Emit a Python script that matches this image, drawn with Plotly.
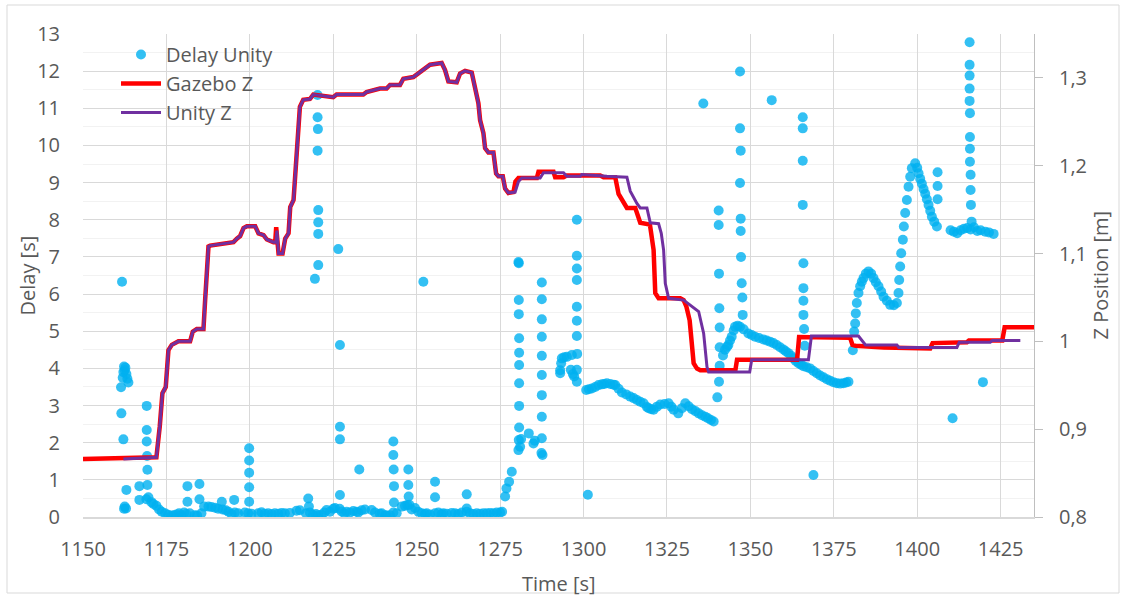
import plotly.graph_objects as go

# ---- Delay measured in Unity (seconds) ----
delay_t = [
    1161.7, 1161.4, 1161.9, 1162.1, 1162.3, 1162.5, 1162.7, 1163.0, 1163.3, 1163.6,
    1161.5, 1162.1, 1163.0, 1162.5, 1162.9, 1162.3,
    1166.9, 1166.9, 1169.1, 1169.1, 1169.1, 1169.2, 1169.3, 1169.3, 1169.6, 1169.0,
    1170.5, 1171.1, 1172.0, 1172.8, 1173.6, 1174.6,
    1175.5, 1176.5, 1177.3, 1178.0, 1178.8, 1179.5, 1180.3, 1181.0, 1181.3, 1181.3,
    1182.0, 1183.5, 1184.2, 1184.9, 1184.9, 1185.5, 1186.3, 1187.6, 1188.5, 1189.6,
    1190.5, 1191.6, 1191.8, 1192.8, 1193.6, 1194.5, 1195.3, 1195.5, 1196.5, 1198.5,
    1199.5, 1199.8, 1199.8, 1199.8, 1199.8, 1199.8, 1200.5, 1202.5, 1203.5, 1204.5,
    1205.5, 1206.5, 1207.5, 1208.5, 1209.5, 1210.5, 1212.0, 1214.0, 1215.0, 1216.8,
    1217.5, 1217.7, 1218.0, 1218.9, 1219.8, 1220.5, 1221.5, 1222.3, 1223.0, 1224.0,
    1225.0, 1225.5, 1226.9, 1227.5, 1228.3, 1229.0, 1230.0, 1231.0, 1232.0, 1232.5,
    1233.5, 1234.5, 1236.5, 1237.5, 1238.9, 1239.5, 1240.5, 1241.0, 1242.0, 1243.0,
    1244.0, 1245.5, 1246.5,
    1220.3, 1220.3, 1220.4, 1220.3, 1220.5, 1220.5, 1220.5, 1220.5, 1219.5,
    1226.5, 1227.0, 1227.0, 1227.0, 1227.0, 1232.8, 1252.0,
    1243.0, 1243.0, 1243.1, 1243.2, 1243.2, 1247.5, 1247.5, 1247.6, 1247.2, 1247.8,
    1248.5, 1249.5, 1250.5, 1251.5, 1252.5, 1253.0, 1254.0, 1255.5, 1255.5, 1255.5,
    1256.5, 1257.5, 1258.0, 1259.0, 1260.5, 1261.5, 1262.5, 1263.5, 1265.0, 1265.0,
    1265.0, 1266.0, 1267.0, 1268.0, 1269.0, 1270.0, 1271.0, 1272.0, 1273.0, 1274.0,
    1275.0, 1275.6,
    1276.5, 1276.9, 1277.7, 1278.5, 1280.5, 1280.6, 1280.7, 1280.7, 1280.7, 1280.7,
    1280.7, 1280.7, 1280.6, 1280.6, 1280.6, 1280.5, 1281.0, 1281.3, 1283.6, 1285.0,
    1285.4, 1287.4, 1287.7, 1287.5, 1287.5, 1287.5, 1287.5, 1287.5, 1287.5, 1287.5,
    1287.5, 1287.5,
    1293.0, 1293.0, 1293.3, 1293.5, 1294.2, 1295.0, 1296.5, 1296.2, 1296.8, 1297.2,
    1298.0, 1298.0, 1298.1, 1298.0, 1298.0, 1298.0, 1298.0, 1298.0, 1298.0, 1298.0,
    1301.3,
    1300.8, 1301.6, 1302.5, 1303.5, 1304.5, 1305.5, 1306.2, 1307.0, 1308.0, 1309.0,
    1309.5, 1310.5, 1311.5, 1312.8, 1314.0, 1315.0, 1316.0, 1317.0, 1318.0, 1319.0,
    1319.5, 1320.3, 1321.0, 1322.0, 1323.0, 1324.3, 1325.5, 1326.3, 1327.0, 1328.4,
    1329.5, 1330.5, 1331.5, 1332.5, 1333.5, 1334.5, 1335.5, 1336.5, 1337.3, 1338.2,
    1339.0,
    1335.9, 1340.5, 1340.5, 1340.6, 1340.7, 1340.8, 1340.8, 1340.8, 1340.6, 1340.1,
    1341.8, 1342.4, 1343.0, 1343.4, 1343.9, 1344.4, 1345.0, 1345.4, 1346.2, 1346.9,
    1346.9, 1346.9, 1347.1, 1346.9, 1347.1, 1347.1, 1347.2, 1347.4, 1347.6, 1347.7,
    1348.0, 1349.4, 1350.4, 1351.4, 1352.6, 1353.9, 1354.9, 1355.9, 1356.9, 1357.9,
    1358.9, 1359.9, 1360.6, 1361.4, 1362.2, 1362.9, 1363.6, 1364.4, 1365.2, 1365.9,
    1366.9, 1367.9, 1368.9, 1369.9, 1370.9, 1371.9, 1372.9, 1373.9, 1374.9, 1375.9,
    1376.9, 1377.9, 1378.7, 1379.4,
    1356.4, 1365.7, 1365.7, 1365.7, 1365.7, 1365.9, 1365.9, 1365.9, 1365.9, 1366.1,
    1366.3, 1368.9,
    1380.7, 1381.1, 1381.4, 1381.6, 1381.9, 1382.4, 1382.9, 1383.4, 1383.9, 1384.6,
    1385.4, 1386.2, 1386.9, 1387.6, 1388.4, 1389.2, 1389.9, 1390.9, 1391.9, 1393.0,
    1393.9, 1394.4, 1394.6, 1394.9, 1395.2, 1395.7, 1396.0, 1396.4, 1396.9, 1397.4,
    1397.9, 1398.4, 1399.4, 1400.0, 1400.4, 1400.9, 1401.4, 1401.9, 1402.4, 1402.9,
    1403.4, 1403.9, 1404.4, 1405.1, 1405.9, 1406.1, 1406.1, 1406.1,
    1410.0, 1411.0, 1412.0, 1413.0, 1414.0, 1415.0, 1416.0, 1417.0, 1418.0, 1419.0,
    1420.4, 1421.5, 1422.9,
    1415.7, 1415.7, 1415.7, 1415.7, 1415.7, 1415.8, 1415.8, 1415.8, 1415.8, 1416.0,
    1416.0, 1416.1, 1416.3, 1410.6, 1419.7,
]
delay_s = [
    6.33, 3.49, 3.75, 3.90, 4.05, 3.95, 4.02, 3.85, 3.72, 3.62,
    2.79, 2.09, 0.73, 0.28, 0.23, 0.22,
    0.83, 0.46, 2.99, 2.34, 2.03, 1.64, 1.27, 0.86, 0.53, 0.48,
    0.40, 0.35, 0.30, 0.20, 0.14, 0.10,
    0.06, 0.04, 0.05, 0.07, 0.10, 0.05, 0.12, 0.08, 0.83, 0.41,
    0.10, 0.05, 0.04, 0.89, 0.48, 0.10, 0.28, 0.28, 0.27, 0.25,
    0.22, 0.41, 0.20, 0.18, 0.14, 0.08, 0.46, 0.12, 0.10, 0.12,
    0.10, 1.85, 1.52, 1.19, 0.80, 0.41, 0.09, 0.10, 0.13, 0.09,
    0.10, 0.08, 0.10, 0.09, 0.11, 0.10, 0.11, 0.17, 0.18, 0.10,
    0.50, 0.28, 0.12, 0.06, 0.08, 0.05, 0.06, 0.12, 0.19, 0.14,
    0.22, 0.24, 0.22, 0.15, 0.10, 0.14, 0.12, 0.16, 0.14, 0.12,
    0.18, 0.20, 0.19, 0.12, 0.09, 0.10, 0.05, 0.04, 0.05, 0.12,
    0.10, 0.28, 0.30,
    11.36, 10.76, 10.44, 9.86, 8.26, 7.93, 7.62, 6.78, 6.41,
    7.21, 4.63, 2.43, 2.09, 0.59, 1.28, 6.33,
    2.03, 1.67, 1.28, 0.83, 0.39, 1.28, 0.86, 0.55, 0.32, 0.33,
    0.20, 0.24, 0.14, 0.10, 0.08, 0.10, 0.07, 0.95, 0.53, 0.10,
    0.12, 0.08, 0.10, 0.09, 0.11, 0.10, 0.08, 0.12, 0.61, 0.23,
    0.14, 0.10, 0.08, 0.10, 0.09, 0.10, 0.10, 0.11, 0.10, 0.12,
    0.12, 0.14,
    0.55, 0.77, 0.95, 1.22, 1.80, 2.07, 2.41, 2.99, 3.60, 4.09,
    4.42, 4.81, 5.46, 5.84, 6.83, 6.86, 1.89, 2.10, 2.25, 1.98,
    2.05, 1.72, 1.67, 2.12, 2.70, 3.28, 3.82, 4.34, 4.85, 5.32,
    5.86, 6.31,
    3.87, 3.95, 4.14, 4.27, 4.30, 4.31, 4.36, 3.96, 3.85, 3.78,
    3.64, 3.96, 4.39, 4.87, 5.28, 5.66, 6.38, 6.69, 7.03, 8.00,
    0.60,
    3.42, 3.44, 3.46, 3.50, 3.55, 3.57, 3.58, 3.60, 3.58, 3.56,
    3.55, 3.45, 3.35, 3.30, 3.24, 3.20, 3.15, 3.10, 3.06, 2.96,
    2.93, 2.90, 2.89, 2.97, 3.03, 3.04, 3.06, 2.97, 2.89, 2.79,
    2.93, 3.06, 2.98, 2.90, 2.85, 2.79, 2.74, 2.70, 2.66, 2.61,
    2.57,
    11.13, 8.25, 7.86, 6.55, 5.62, 5.10, 4.57, 4.07, 3.64, 3.22,
    4.35, 4.50, 4.58, 4.63, 4.75, 4.85, 5.02, 5.12, 5.15, 5.12,
    11.99, 10.46, 9.86, 8.99, 8.03, 7.70, 7.00, 6.29, 5.91, 5.44,
    5.05, 4.94, 4.90, 4.85, 4.82, 4.78, 4.75, 4.72, 4.68, 4.63,
    4.57, 4.51, 4.46, 4.41, 4.34, 4.27, 4.20, 4.14, 4.10, 4.06,
    4.03, 4.00, 3.93, 3.87, 3.81, 3.76, 3.71, 3.67, 3.63, 3.60,
    3.59, 3.60, 3.62, 3.64,
    11.22, 10.76, 10.46, 9.59, 8.40, 6.83, 6.16, 5.82, 5.44, 5.06,
    4.61, 1.13,
    4.49, 4.99, 5.21, 5.48, 5.76, 6.03, 6.21, 6.33, 6.43, 6.55,
    6.61, 6.55, 6.43, 6.32, 6.21, 6.07, 5.93, 5.82, 5.71, 5.70,
    5.76, 6.03, 6.38, 6.74, 7.10, 7.46, 7.82, 8.18, 8.53, 8.89,
    9.16, 9.39, 9.52, 9.40, 9.25, 9.10, 8.97, 8.83, 8.70, 8.55,
    8.40, 8.24, 8.08, 7.95, 7.82, 9.28, 8.91, 8.55,
    7.72, 7.68, 7.64, 7.72, 7.76, 7.78, 7.74, 7.80, 7.70, 7.72,
    7.68, 7.66, 7.62,
    12.78, 12.17, 11.88, 11.53, 11.20, 10.87, 10.23, 9.91, 9.56, 9.21,
    8.80, 8.40, 7.95, 2.66, 3.63,
]

# ---- Z position of the vehicle (metres) ----
gazebo_t = [
    1150.0, 1172.0, 1173.0, 1173.8, 1174.8, 1175.6, 1176.6, 1178.6, 1182.1, 1182.9,
    1184.1, 1186.1, 1186.6, 1187.6, 1188.1, 1195.1, 1196.1, 1197.1, 1198.1, 1199.1,
    1201.6, 1202.6, 1204.1, 1205.1, 1207.1, 1207.6, 1207.9, 1208.2, 1208.6, 1209.8,
    1210.6, 1211.6, 1212.1, 1213.1, 1214.1, 1215.0, 1216.0, 1218.0, 1219.0, 1225.0,
    1226.0, 1234.0, 1235.0, 1239.0, 1241.0, 1242.0, 1245.0, 1246.0, 1249.0, 1252.0,
    1254.0, 1257.5, 1258.5, 1259.5, 1262.0, 1263.0, 1264.5, 1266.5, 1267.5, 1268.5,
    1269.0, 1270.0, 1270.5, 1271.5, 1273.0, 1273.8, 1274.5, 1275.8, 1276.5, 1277.5,
    1279.0, 1279.6, 1280.5, 1286.0, 1286.5, 1291.0, 1291.5, 1294.0, 1295.0, 1305.0,
    1306.0, 1309.5, 1310.5, 1312.5, 1313.0, 1315.5, 1317.0, 1319.9, 1321.0, 1321.5,
    1322.5, 1329.0, 1330.0, 1330.8, 1331.8, 1333.0, 1334.0, 1335.0, 1345.5, 1346.0,
    1364.0, 1364.6, 1372.0, 1373.0, 1379.9, 1380.6, 1381.5, 1390.0, 1403.9, 1404.6,
    1414.9, 1415.5, 1425.5, 1426.2, 1436.0,
]
gazebo_z = [
    0.866, 0.868, 0.903, 0.941, 0.948, 0.990, 0.996, 1.000, 1.000, 1.011,
    1.014, 1.014, 1.047, 1.108, 1.109, 1.113, 1.117, 1.120, 1.129, 1.131,
    1.131, 1.123, 1.121, 1.116, 1.113, 1.113, 1.130, 1.112, 1.100, 1.100,
    1.117, 1.123, 1.153, 1.161, 1.218, 1.267, 1.275, 1.276, 1.281, 1.278,
    1.281, 1.281, 1.284, 1.288, 1.288, 1.292, 1.292, 1.299, 1.301, 1.309,
    1.315, 1.317, 1.309, 1.296, 1.295, 1.305, 1.308, 1.306, 1.290, 1.271,
    1.252, 1.237, 1.220, 1.215, 1.215, 1.191, 1.188, 1.188, 1.174, 1.169,
    1.170, 1.182, 1.186, 1.186, 1.193, 1.193, 1.187, 1.187, 1.189, 1.189,
    1.187, 1.187, 1.168, 1.155, 1.152, 1.152, 1.135, 1.133, 1.104, 1.055,
    1.049, 1.049, 1.047, 1.040, 1.024, 0.975, 0.969, 0.967, 0.967, 0.979,
    0.979, 1.005, 1.005, 1.004, 1.004, 0.996, 0.995, 0.993, 0.992, 0.998,
    0.999, 1.001, 1.001, 1.016, 1.016,
]

unity_t = [
    1162.1, 1172.0, 1173.0, 1173.8, 1174.8, 1175.6, 1176.6, 1178.6, 1182.1, 1182.9,
    1184.1, 1186.1, 1186.6, 1187.6, 1188.1, 1195.1, 1196.1, 1197.1, 1198.1, 1199.1,
    1201.6, 1202.6, 1204.1, 1205.1, 1207.1, 1207.8, 1208.1, 1208.4, 1208.6, 1209.8,
    1210.6, 1211.6, 1212.1, 1213.1, 1214.1, 1215.0, 1216.0, 1218.0, 1219.0, 1225.0,
    1226.0, 1234.0, 1235.0, 1239.0, 1241.0, 1242.0, 1245.0, 1246.0, 1249.0, 1252.0,
    1254.0, 1257.5, 1258.5, 1259.5, 1262.0, 1263.0, 1264.5, 1266.5, 1267.5, 1268.5,
    1269.0, 1270.0, 1270.5, 1271.5, 1273.0, 1273.8, 1274.5, 1275.8, 1276.5, 1277.5,
    1279.5, 1280.5, 1281.5, 1287.0, 1288.0, 1294.0, 1295.0, 1299.0, 1299.5, 1306.0,
    1307.0, 1313.0, 1314.0, 1316.0, 1317.0, 1319.0, 1320.0, 1322.5, 1323.3, 1324.0,
    1324.5, 1325.5, 1330.0, 1334.5, 1336.0, 1337.0, 1337.5, 1349.8, 1350.4, 1367.4,
    1368.3, 1382.4, 1383.9, 1384.5, 1393.9, 1394.5, 1411.9, 1412.6, 1421.9, 1422.5,
    1430.9,
]
unity_z = [
    0.866, 0.868, 0.903, 0.941, 0.948, 0.990, 0.996, 1.000, 1.000, 1.011,
    1.014, 1.014, 1.047, 1.108, 1.109, 1.113, 1.117, 1.120, 1.129, 1.131,
    1.131, 1.123, 1.121, 1.116, 1.113, 1.113, 1.126, 1.110, 1.100, 1.100,
    1.117, 1.123, 1.153, 1.161, 1.218, 1.267, 1.275, 1.276, 1.281, 1.278,
    1.281, 1.281, 1.284, 1.288, 1.288, 1.292, 1.292, 1.299, 1.301, 1.309,
    1.315, 1.317, 1.309, 1.296, 1.295, 1.305, 1.308, 1.306, 1.290, 1.271,
    1.252, 1.237, 1.220, 1.215, 1.215, 1.191, 1.188, 1.188, 1.174, 1.169,
    1.170, 1.182, 1.186, 1.186, 1.192, 1.192, 1.188, 1.188, 1.190, 1.189,
    1.188, 1.187, 1.171, 1.157, 1.152, 1.152, 1.135, 1.134, 1.123, 1.104,
    1.066, 1.049, 1.047, 1.034, 1.009, 0.971, 0.965, 0.965, 0.979, 0.979,
    1.006, 1.006, 0.999, 0.996, 0.996, 0.993, 0.993, 0.999, 0.999, 1.001,
    1.001,
]

# ---- axis ticks ----
time_ticks = [1150, 1175, 1200, 1225, 1250, 1275, 1300, 1325, 1350, 1375, 1400, 1425]
delay_ticks = list(range(0, 14))
z_ticks = [0.8, 0.9, 1.0, 1.1, 1.2, 1.3]
z_tick_labels = ["0,8", "0,9", "1", "1,1", "1,2", "1,3"]

FONT = "Open Sans"
FS = 20
TXT = "#595959"
GRID = "#D9D9D9"

fig = go.Figure()

fig.add_trace(go.Scatter(
    x=delay_t, y=delay_s, mode="markers", name="Delay Unity",
    marker=dict(size=10, color="#00B0F0", opacity=0.8, line=dict(width=0)),
))
fig.add_trace(go.Scatter(
    x=gazebo_t, y=gazebo_z, mode="lines", name="Gazebo Z", yaxis="y2",
    line=dict(color="#FF0000", width=4.5),
))
fig.add_trace(go.Scatter(
    x=unity_t, y=unity_z, mode="lines", name="Unity Z", yaxis="y2",
    line=dict(color="#7030A0", width=3),
))

W, H = 1121, 599
L, R, T, B = 83, 87, 34, 82
pw, ph = W - L - R, H - T - B

fig.update_layout(
    width=W, height=H,
    margin=dict(l=L, r=R, t=T, b=B, pad=0),
    paper_bgcolor="white", plot_bgcolor="white",
    font=dict(family=FONT, size=FS, color=TXT),
    showlegend=True,
    legend=dict(
        x=(116 - L) / pw, y=1 - (35 - T) / ph, xanchor="left", yanchor="top",
        bgcolor="rgba(0,0,0,0)", font=dict(family=FONT, size=FS, color=TXT),
        tracegroupgap=0, itemwidth=40,
    ),
    xaxis=dict(
        range=[1150, 1435], tickvals=time_ticks, ticktext=[str(v) for v in time_ticks],
        showgrid=True, gridcolor=GRID, gridwidth=1,
        showline=True, linecolor=GRID, linewidth=1.5,
        zeroline=False, ticks="", ticklabelstandoff=13,
        tickfont=dict(family=FONT, size=FS, color=TXT),
    ),
    yaxis=dict(
        range=[0, 13], tickvals=delay_ticks,
        showgrid=True, gridcolor=GRID, gridwidth=1,
        minor=dict(dtick=0.5, showgrid=True, gridcolor="#F2F2F2", gridwidth=1),
        showline=False, zeroline=False, ticks="", ticklabelstandoff=22,
        tickfont=dict(family=FONT, size=FS, color=TXT),
    ),
    yaxis2=dict(
        range=[0.8, 1.35], overlaying="y", side="right",
        tickvals=z_ticks, ticktext=z_tick_labels,
        showgrid=False, zeroline=False,
        showline=True, linecolor="#BFBFBF", linewidth=1,
        ticks="outside", ticklen=8, tickcolor="#BFBFBF", ticklabelstandoff=12,
        tickfont=dict(family=FONT, size=FS, color=TXT),
    ),
    shapes=[dict(
        type="rect", xref="paper", yref="paper", layer="below",
        x0=(7 - L) / pw, x1=(1119 - L) / pw,
        y0=(H - B - 593) / ph, y1=(H - B - 5) / ph,
        line=dict(color=GRID, width=1), fillcolor="rgba(0,0,0,0)",
    )],
    annotations=[
        dict(text="Time [s]", xref="paper", yref="paper", x=0.5, y=0,
             yshift=-66, showarrow=False, xanchor="center", yanchor="middle",
             font=dict(family=FONT, size=FS, color=TXT)),
        dict(text="Delay [s]", xref="paper", yref="paper", x=0, y=0.5,
             xshift=-56, textangle=-90, showarrow=False,
             xanchor="center", yanchor="middle",
             font=dict(family=FONT, size=FS, color=TXT)),
        dict(text="Z Position [m]", xref="paper", yref="paper", x=1, y=0.5,
             xshift=66, textangle=-90, showarrow=False,
             xanchor="center", yanchor="middle",
             font=dict(family=FONT, size=FS, color=TXT)),
    ],
)

fig.write_html("out.html")
